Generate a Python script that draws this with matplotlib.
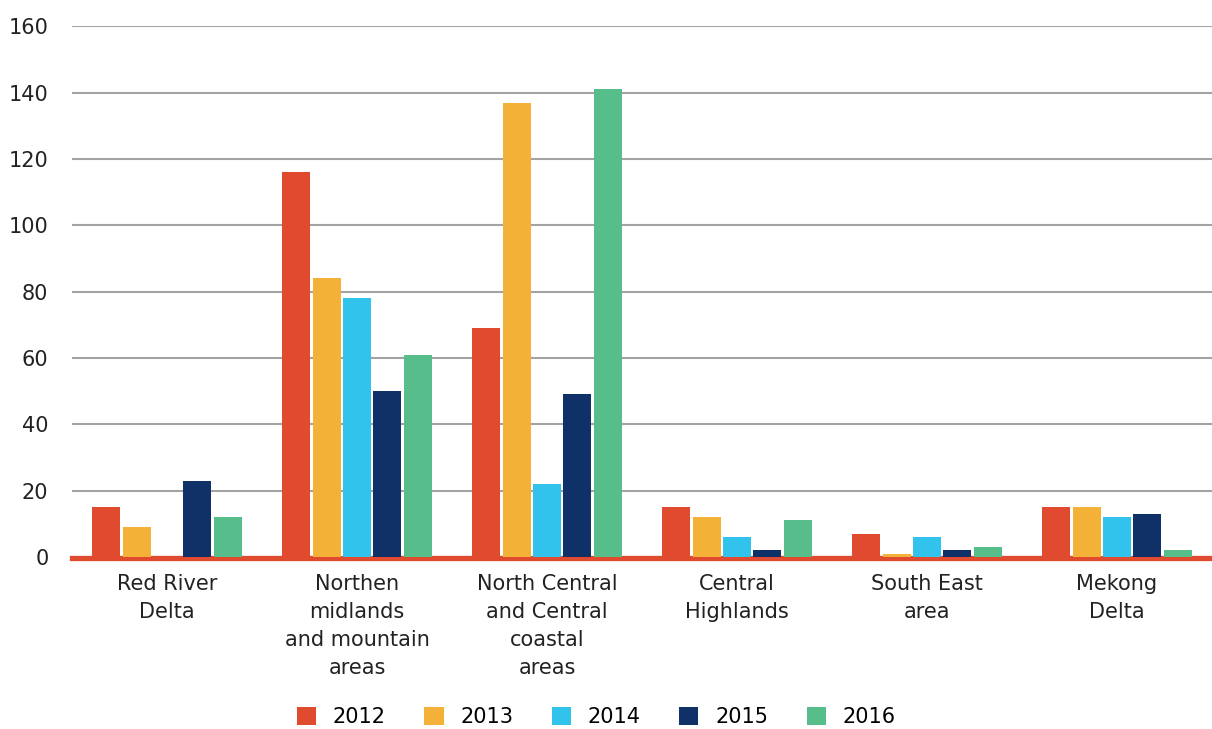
import matplotlib
matplotlib.use("Agg")
import matplotlib.pyplot as plt
import numpy as np
from matplotlib.patches import Patch

regions = ["Red River\nDelta", "Northen\nmidlands\nand mountain\nareas",
           "North Central\nand Central\ncoastal\nareas", "Central\nHighlands",
           "South East\narea", "Mekong\nDelta"]
years = ["2012", "2013", "2014", "2015", "2016"]
v2012 = [15, 116, 69, 15, 7, 15]
v2013 = [9, 84, 137, 12, 1, 15]
v2014 = [0, 78, 22, 6, 6, 12]
v2015 = [23, 50, 49, 2, 2, 13]
v2016 = [12, 61, 141, 11, 3, 2]
series = [v2012, v2013, v2014, v2015, v2016]
colors = ["#E04B30", "#F3B137", "#32C3ED", "#0F3168", "#57BD8A"]
yticks = [0, 20, 40, 60, 80, 100, 120, 140, 160]

plt.rcParams["font.family"] = ["DejaVu Sans"]

fig = plt.figure(figsize=(12.12, 7.29), dpi=100)
ax = fig.add_axes([0.0594, 0.236, 0.9406, 0.728])

x = np.arange(len(regions))
pitch = 0.16
width = 0.148
for i, (vals, c) in enumerate(zip(series, colors)):
    ax.bar(x + (i - 2) * pitch, vals, width=width, color=c, zorder=3,
           label=years[i])

ax.set_xlim(-0.5, len(regions) - 0.5)
ax.set_ylim(0, 160)
ax.set_yticks(yticks)
ax.set_yticklabels([str(t) for t in yticks], fontsize=15, color="#222222")
ax.yaxis.grid(True, color="#a3a3a3", linewidth=1.5, zorder=0)
ax.set_axisbelow(True)
ax.tick_params(axis="y", length=0, pad=17)
ax.tick_params(axis="x", length=0, pad=12)
ax.set_xticks(x)
ax.set_xticklabels(regions, fontsize=15, color="#222222", linespacing=1.5)
for s in ax.spines.values():
    s.set_visible(False)
# red baseline sits just under the bars
ax.axhline(-0.45, color="#E04B30", linewidth=3.8, zorder=2, clip_on=False)

handles = [Patch(facecolor=c, edgecolor="none", label=y) for c, y in zip(colors, years)]
leg = fig.legend(handles=handles, loc="center", ncol=5,
                 frameon=False, fontsize=15, handlelength=0.92, handleheight=0.92,
                 columnspacing=1.85, handletextpad=0.8)
leg.set_bbox_to_anchor((0.492, 1 - 717 / 729), transform=fig.transFigure)

fig.savefig("out.png", dpi=100)
